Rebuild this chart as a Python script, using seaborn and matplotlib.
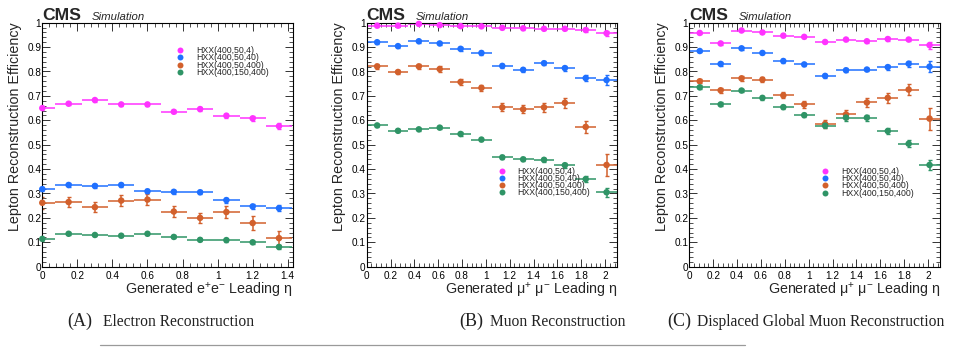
import matplotlib
matplotlib.use("Agg")
import matplotlib.pyplot as plt
import pandas as pd
import seaborn as sns
from matplotlib.lines import Line2D
from matplotlib.ticker import MultipleLocator, FuncFormatter

# ---------------------------------------------------------------- data
samples = ["HXX(400,50,4)", "HXX(400,50,40)", "HXX(400,50,400)", "HXX(400,150,400)"]
colors = ["#ff33ff", "#1f70ff", "#d2602c", "#2f9466"]

# (A) electrons: bin centres in |eta| and efficiencies per sample
eta_ele = [0.0, 0.15, 0.30, 0.45, 0.60, 0.75, 0.90, 1.05, 1.20, 1.35]
eta_ele_halfwidth = 0.075
ele_eff_4 = [0.650, 0.668, 0.683, 0.665, 0.665, 0.635, 0.646, 0.619, 0.608, 0.576]
ele_eff_40 = [0.318, 0.335, 0.331, 0.335, 0.309, 0.307, 0.305, 0.273, 0.247, 0.240]
ele_eff_400 = [0.262, 0.265, 0.244, 0.271, 0.275, 0.226, 0.200, 0.224, 0.179, 0.117]
ele_eff_150 = [0.114, 0.135, 0.130, 0.127, 0.135, 0.122, 0.110, 0.109, 0.100, 0.081]
ele_err_4 = [0.008, 0.006, 0.006, 0.006, 0.006, 0.007, 0.007, 0.008, 0.009, 0.011]
ele_err_40 = [0.009, 0.007, 0.007, 0.007, 0.008, 0.008, 0.009, 0.010, 0.011, 0.012]
ele_err_400 = [0.025, 0.022, 0.020, 0.022, 0.024, 0.021, 0.022, 0.024, 0.027, 0.028]
ele_err_150 = [0.008, 0.006, 0.006, 0.006, 0.006, 0.006, 0.006, 0.006, 0.007, 0.007]

# (B) muons and (C) displaced global muons share the same eta binning
eta_mu = [0.0875, 0.2625, 0.4375, 0.6125, 0.7875, 0.9625,
          1.1375, 1.3125, 1.4875, 1.6625, 1.8375, 2.0125]
eta_mu_halfwidth = 0.0875

mu_eff_4 = [0.988, 0.988, 0.995, 0.990, 0.986, 0.985, 0.979, 0.977, 0.975, 0.975, 0.970, 0.957]
mu_eff_40 = [0.920, 0.904, 0.924, 0.915, 0.893, 0.876, 0.823, 0.807, 0.834, 0.814, 0.773, 0.765]
mu_eff_400 = [0.821, 0.798, 0.821, 0.810, 0.757, 0.733, 0.653, 0.645, 0.653, 0.672, 0.573, 0.417]
mu_eff_150 = [0.579, 0.557, 0.563, 0.570, 0.544, 0.521, 0.448, 0.440, 0.438, 0.416, 0.359, 0.305]
mu_err_4 = [0.004, 0.004, 0.003, 0.003, 0.004, 0.004, 0.005, 0.005, 0.005, 0.006, 0.007, 0.010]
mu_err_40 = [0.006, 0.006, 0.006, 0.006, 0.007, 0.007, 0.008, 0.008, 0.008, 0.010, 0.013, 0.020]
mu_err_400 = [0.010, 0.010, 0.010, 0.011, 0.013, 0.013, 0.016, 0.017, 0.017, 0.020, 0.025, 0.045]
mu_err_150 = [0.006, 0.006, 0.006, 0.006, 0.007, 0.007, 0.008, 0.008, 0.008, 0.010, 0.012, 0.018]

dgm_eff_4 = [0.958, 0.915, 0.968, 0.960, 0.947, 0.942, 0.921, 0.931, 0.924, 0.933, 0.931, 0.908]
dgm_eff_40 = [0.884, 0.831, 0.895, 0.876, 0.843, 0.829, 0.782, 0.805, 0.808, 0.818, 0.832, 0.820]
dgm_eff_400 = [0.760, 0.723, 0.772, 0.767, 0.702, 0.665, 0.585, 0.624, 0.673, 0.692, 0.726, 0.607]
dgm_eff_150 = [0.735, 0.665, 0.722, 0.692, 0.654, 0.621, 0.578, 0.611, 0.611, 0.556, 0.504, 0.417]
dgm_err_4 = [0.005, 0.006, 0.004, 0.004, 0.005, 0.005, 0.006, 0.006, 0.006, 0.007, 0.008, 0.014]
dgm_err_40 = [0.006, 0.007, 0.006, 0.006, 0.007, 0.007, 0.008, 0.008, 0.008, 0.010, 0.012, 0.022]
dgm_err_400 = [0.009, 0.010, 0.009, 0.010, 0.012, 0.014, 0.016, 0.017, 0.018, 0.020, 0.024, 0.045]
dgm_err_150 = [0.008, 0.008, 0.007, 0.007, 0.008, 0.009, 0.010, 0.012, 0.012, 0.013, 0.015, 0.020]

xlabels = ["Generated e$^{+}$e$^{-}$ Leading η",
           "Generated μ$^{+}$ μ$^{-}$ Leading η",
           "Generated μ$^{+}$ μ$^{-}$ Leading η"]
caption_tags = ["(A)", "(B)", "(C)"]
captions = ["Electron Reconstruction", "Muon Reconstruction",
            "Displaced Global Muon Reconstruction"]

# ---------------------------------------------------------------- style
sns.set_theme(style="ticks")
plt.rcParams["font.family"] = ["Liberation Sans", "DejaVu Sans"]
plt.rcParams["mathtext.fontset"] = "custom"
plt.rcParams["mathtext.rm"] = "Liberation Sans"
plt.rcParams["mathtext.it"] = "Liberation Sans:italic"

W, H = 962, 352
fig = plt.figure(figsize=(W / 100, H / 100), dpi=100)


def px_rect(x0, x1, ytop, ybot):
    return [x0 / W, 1 - ybot / H, (x1 - x0) / W, (ybot - ytop) / H]


panels = [
    dict(rect=px_rect(42.3, 293, 22.7, 266.7), xmax=1.43, eta=eta_ele, hw=eta_ele_halfwidth,
         effs=[ele_eff_4, ele_eff_40, ele_eff_400, ele_eff_150],
         errs=[ele_err_4, ele_err_40, ele_err_400, ele_err_150],
         leg=(0.532, 0.904)),
    dict(rect=px_rect(366.7, 617, 22.7, 266.7), xmax=2.1, eta=eta_mu, hw=eta_mu_halfwidth,
         effs=[mu_eff_4, mu_eff_40, mu_eff_400, mu_eff_150],
         errs=[mu_err_4, mu_err_40, mu_err_400, mu_err_150],
         leg=(0.523, 0.410)),
    dict(rect=px_rect(689.3, 940, 22.7, 266.7), xmax=2.1, eta=eta_mu, hw=eta_mu_halfwidth,
         effs=[dgm_eff_4, dgm_eff_40, dgm_eff_400, dgm_eff_150],
         errs=[dgm_err_4, dgm_err_40, dgm_err_400, dgm_err_150],
         leg=(0.524, 0.409)),
]

fmt = FuncFormatter(lambda v, pos: f"{v:g}")

for i, p in enumerate(panels):
    ax = fig.add_axes(p["rect"])
    frames = []
    for name, eff in zip(samples, p["effs"]):
        frames.append(pd.DataFrame({"eta": p["eta"], "eff": eff, "sample": name}))
    df = pd.concat(frames, ignore_index=True)

    for c, eff, err in zip(colors, p["effs"], p["errs"]):
        ax.errorbar(p["eta"], eff, xerr=p["hw"], fmt="none", ecolor=c,
                    elinewidth=1.1, capsize=0, zorder=2)
        ax.errorbar(p["eta"], eff, yerr=err, fmt="none", ecolor=c,
                    elinewidth=1.1, capsize=1.3, capthick=1.0, zorder=2)
    sns.scatterplot(data=df, x="eta", y="eff", hue="sample", hue_order=samples,
                    palette=colors, s=22, linewidth=0, legend=False, ax=ax,
                    zorder=3, clip_on=False)

    ax.set_xlim(0, p["xmax"])
    ax.set_ylim(0, 1)
    ax.set_xlabel("")
    ax.set_ylabel("")
    ax.xaxis.set_major_locator(MultipleLocator(0.2))
    ax.xaxis.set_minor_locator(MultipleLocator(0.04))
    ax.yaxis.set_major_locator(MultipleLocator(0.1))
    ax.yaxis.set_minor_locator(MultipleLocator(0.02))
    ax.xaxis.set_major_formatter(fmt)
    ax.yaxis.set_major_formatter(fmt)
    ax.tick_params(which="both", direction="in", top=True, right=True,
                   colors="#333333", labelcolor="black", labelsize=7.2)
    ax.tick_params(which="major", length=5.8, width=0.7)
    ax.tick_params(which="minor", length=2.9, width=0.6)
    ax.tick_params(axis="x", which="major", pad=3)
    ax.tick_params(axis="y", which="major", pad=0.8)
    for sp in ax.spines.values():
        sp.set_linewidth(0.8)
        sp.set_color("black")

    handles = [Line2D([], [], marker="o", ls="none", color=c, markersize=4.3,
                      markeredgewidth=0) for c in colors]
    ax.legend(handles, samples, loc="upper left", bbox_to_anchor=p["leg"],
              frameon=False, fontsize=6.3, labelspacing=-0.2, handlelength=1.0,
              handletextpad=1.3, borderpad=0, borderaxespad=0)

    x0 = p["rect"][0]
    x1 = p["rect"][0] + p["rect"][2]
    # experiment label above the frame
    fig.text(x0, 1 - 19.5 / H, "CMS", fontsize=12.6, fontweight="bold",
             ha="left", va="baseline")
    fig.text(x0 + 49 / W, 1 - 19.5 / H, "Simulation", fontsize=8.2,
             style="italic", ha="left", va="baseline")
    # axis titles in the ROOT manner: x right-aligned, y top-aligned
    fig.text(x1, 1 - 295 / H, xlabels[i], fontsize=10.3, ha="right", va="baseline")
    fig.text(x0 - 27.5 / W, 1 - 22.7 / H, "Lepton Reconstruction Efficiency",
             fontsize=10.3, rotation=90, ha="center", va="top")

# sub-figure captions
tag_x = [67, 459, 667]
cap_x = [103, 490, 697]
for tx, cx, tag, cap in zip(tag_x, cap_x, caption_tags, captions):
    fig.text(tx / W, 1 - 321 / H, tag, fontsize=13, family="Liberation Serif",
             ha="left", va="center", color="#222222")
    fig.text(cx / W, 1 - 322 / H, cap, fontsize=11.2, family="Liberation Serif",
             ha="left", va="center", color="#222222")

fig.add_artist(Line2D([100 / W, 745 / W], [1 - 345 / H, 1 - 345 / H],
                      color="#9a9a9a", linewidth=0.9))

fig.savefig("out.png", dpi=100, facecolor="white")
